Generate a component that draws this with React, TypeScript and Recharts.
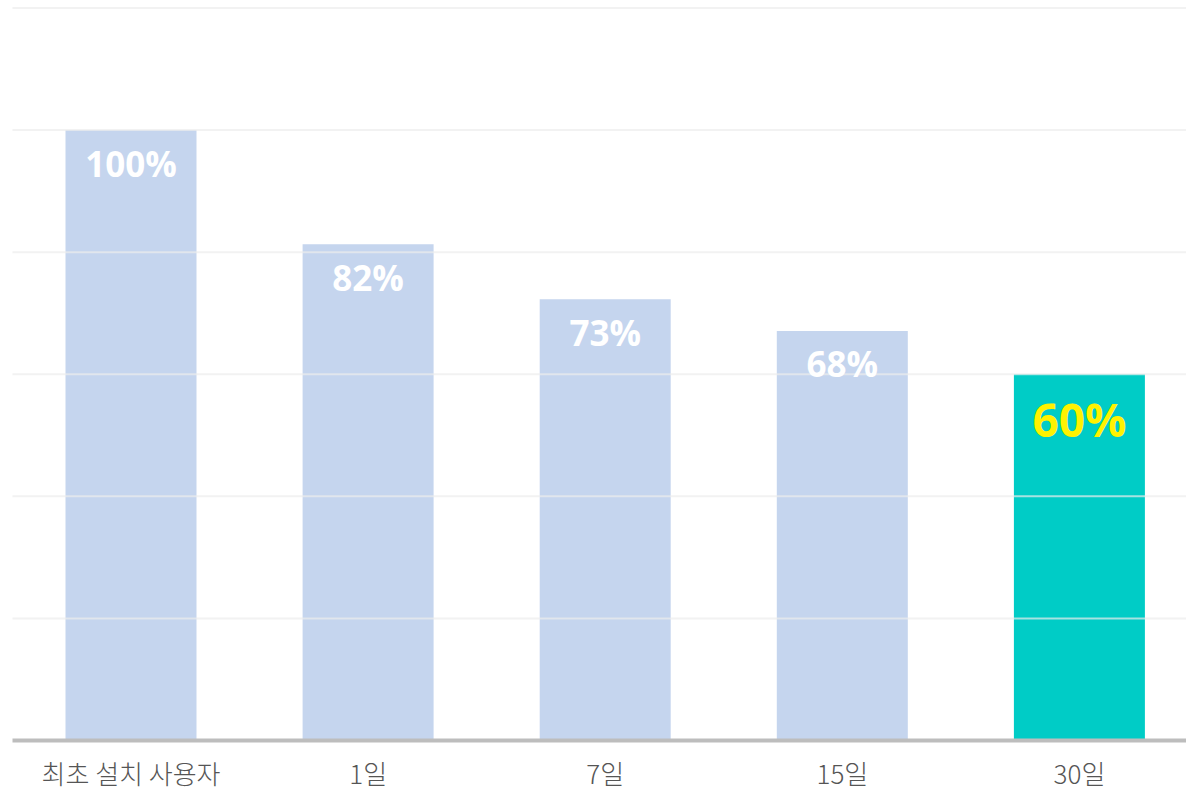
import { Bar, BarChart, Cell, LabelList, ReferenceLine, XAxis, YAxis } from "recharts";

const categories = ["최초 설치 사용자", "1일", "7일", "15일", "30일"];
const retention = [100, 81.3, 72.3, 67.1, 60];
const retentionLabels = ["100%", "82%", "73%", "68%", "60%"];
const gridTicks = [20, 40, 60, 80, 100, 120];

const BAR_COLOR = "#c5d5ee";
const HIGHLIGHT_COLOR = "#00ccc6";

const data = categories.map((name, i) => ({
  name,
  value: retention[i],
  label: retentionLabels[i],
}));

function CategoryTick(props: any) {
  const { x, y, payload } = props;
  return (
    <text
      x={x}
      y={y + 24}
      textAnchor="middle"
      dominantBaseline="central"
      fill="#555"
      fontSize={26}
      fontWeight={300}
      fontFamily='"Noto Sans CJK KR", "Noto Sans", sans-serif'
    >
      {payload.value}
    </text>
  );
}

function ValueLabel(props: any) {
  const { x, y, width, index } = props;
  const last = index === data.length - 1;
  return (
    <text
      x={x + width / 2}
      y={y + (last ? 45 : 33)}
      textAnchor="middle"
      dominantBaseline="central"
      fill={last ? "#fff200" : "#ffffff"}
      fontSize={last ? 46 : 35}
      fontWeight={700}
      fontFamily='"Open Sans", Lato, sans-serif'
    >
      {data[index].label}
    </text>
  );
}

export default function App() {
  return (
    <div
      style={{
        position: "fixed",
        left: 0,
        top: 0,
        width: 1186,
        height: 791,
        overflow: "hidden",
        background: "#fff",
      }}
    >
      <BarChart
        width={1198}
        height={791}
        data={data}
        margin={{ top: 8, right: 0, left: 12.5, bottom: 0 }}
      >
        <XAxis
          dataKey="name"
          height={50.5}
          tickLine={false}
          axisLine={{ stroke: "#bdbdbd", strokeWidth: 4 }}
          tick={<CategoryTick />}
          interval={0}
        />
        <YAxis hide domain={[0, 120]} ticks={gridTicks} />
        <Bar dataKey="value" barSize={131} isAnimationActive={false}>
          {data.map((d, i) => (
            <Cell
              key={d.name}
              fill={i === data.length - 1 ? HIGHLIGHT_COLOR : BAR_COLOR}
            />
          ))}
          <LabelList dataKey="value" content={<ValueLabel />} />
        </Bar>
        {gridTicks.map((t) => (
          <ReferenceLine
            key={t}
            y={t}
            stroke="#ececec"
            strokeOpacity={0.7}
            strokeWidth={2}
          />
        ))}
      </BarChart>
    </div>
  );
}
